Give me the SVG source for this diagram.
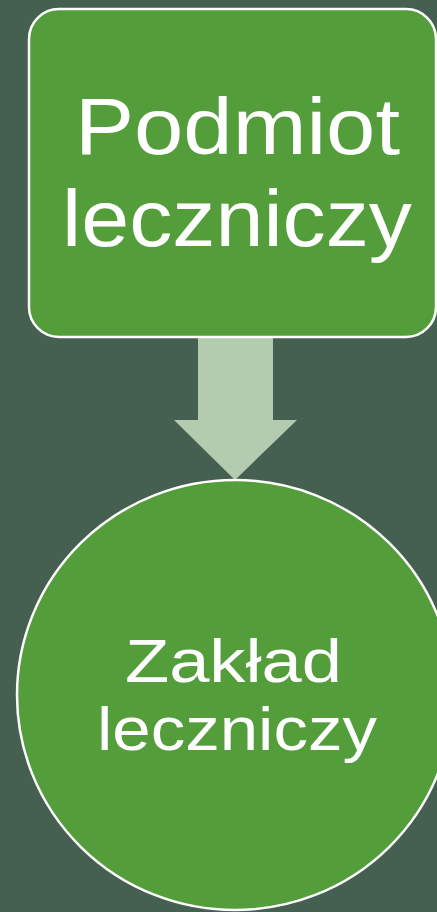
<svg xmlns="http://www.w3.org/2000/svg" width="437" height="912" viewBox="0 0 437 912">
<style>
.node{fill:#539D3A;stroke:#FFFFFF;stroke-width:2.5}
.lbl{fill:#FFFFFF;font-family:"Liberation Sans","DejaVu Sans",sans-serif;text-anchor:middle}
.arrow{fill:#B3CCB0}
</style>
<rect width="437" height="912" fill="#455F51"/>
<g id="connectors">
<polygon class="arrow" points="198,338 273,338 273,420 297,420 235,480 174,420 198,420"/>
</g>
<g id="podmiot">
<rect class="node" x="29" y="9" width="407" height="328" rx="30" ry="30"/>
<text class="lbl" x="237.5" y="154" font-size="80" textLength="325" lengthAdjust="spacingAndGlyphs">Podmiot</text>
<text class="lbl" x="237" y="246" font-size="80" textLength="350" lengthAdjust="spacingAndGlyphs">leczniczy</text>
</g>
<g id="zaklad">
<ellipse class="node" cx="235" cy="695" rx="218" ry="215"/>
<text class="lbl" x="233.5" y="682" font-size="61" textLength="217" lengthAdjust="spacingAndGlyphs">Zakład</text>
<text class="lbl" x="237" y="750" font-size="61" textLength="280" lengthAdjust="spacingAndGlyphs">leczniczy</text>
</g>
</svg>
